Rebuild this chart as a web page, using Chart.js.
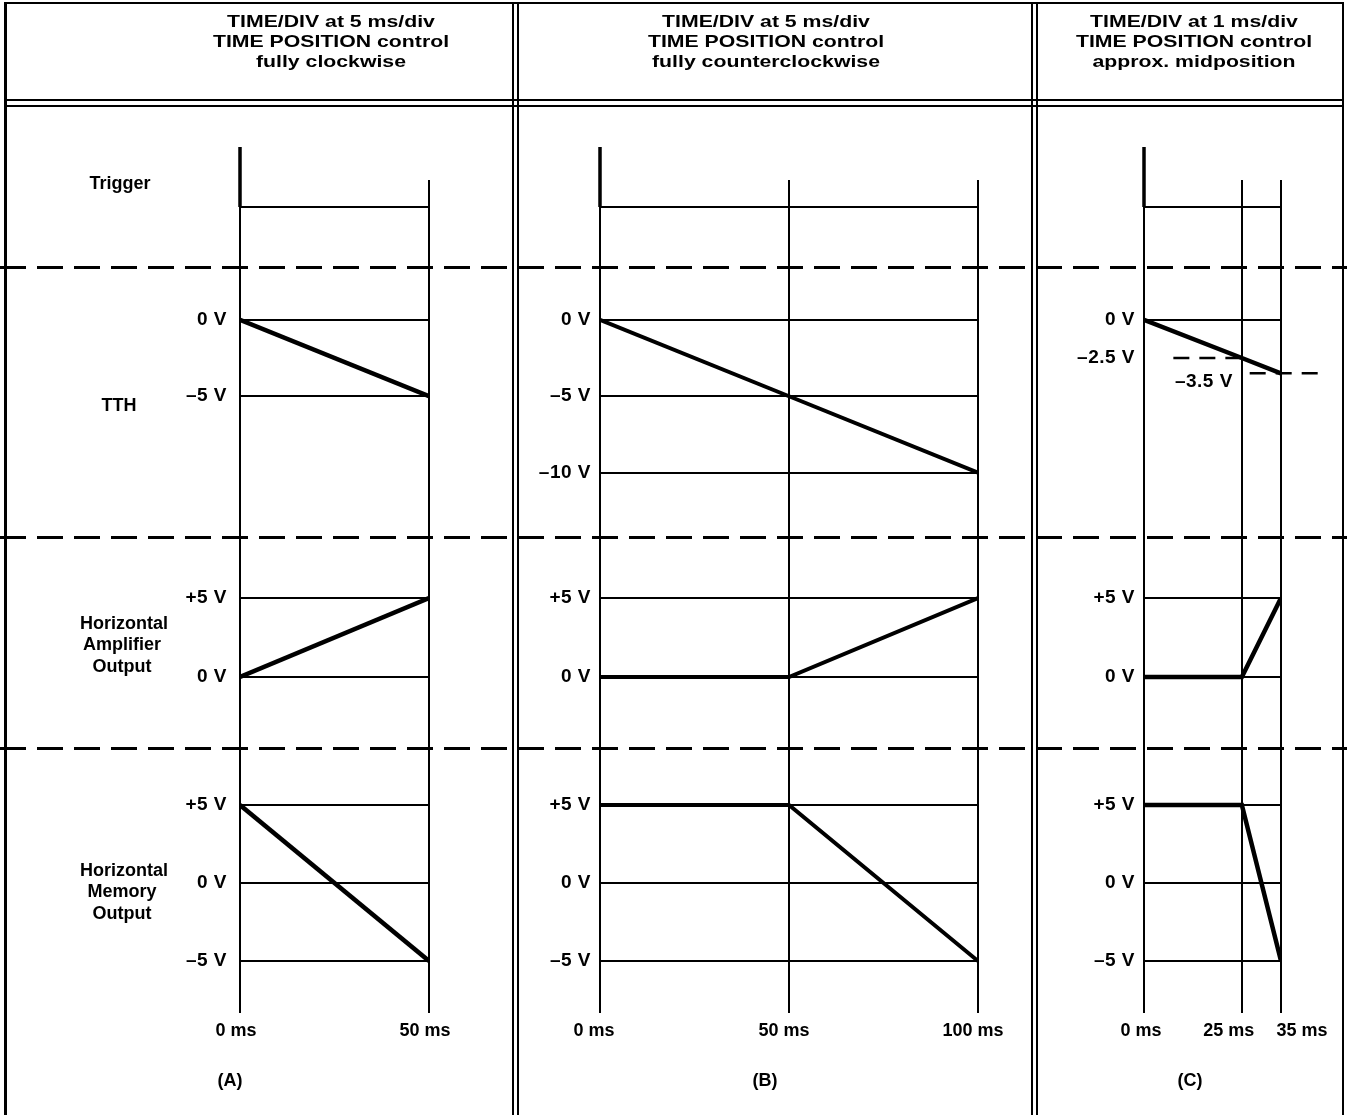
<!DOCTYPE html>
<html>
<head>
<meta charset="utf-8">
<script src="https://cdn.jsdelivr.net/npm/chart.js@4.4.1/dist/chart.umd.min.js"></script>
<style>
  html, body { margin: 0; padding: 0; background: #fff; }
  #page { position: relative; width: 1347px; height: 1115px; overflow: hidden; background: #fff;
          font-family: "Liberation Sans", Arial, sans-serif; font-weight: bold; color: #000; }
  canvas { position: absolute; left: 0; top: 0; }
  .rule { position: absolute; background: #000; }
  .dash { position: absolute; left: 0; width: 1347px; height: 3px;
          background: repeating-linear-gradient(90deg, #000 0 26px, transparent 26px 37px); }
  .t { position: absolute; white-space: nowrap; line-height: 1; font-size: 17px;
       transform: translate(-50%, -50%) scaleX(1.25); }
  .r { position: absolute; white-space: nowrap; line-height: 1; font-size: 18px;
       transform: translate(-50%, -50%); }
</style>
</head>
<body>
<div id="page">
  <!-- frame -->
  <div class="rule" style="left:4px;top:2px;width:1340px;height:2px"></div>
  <div class="rule" style="left:4px;top:2px;width:3px;height:1113px"></div>
  <div class="rule" style="left:1342px;top:2px;width:2px;height:1113px"></div>
  <div class="rule" style="left:4px;top:99px;width:1340px;height:2px"></div>
  <div class="rule" style="left:4px;top:105px;width:1340px;height:2px"></div>
  <div class="rule" style="left:512px;top:2px;width:2px;height:1113px"></div>
  <div class="rule" style="left:517px;top:2px;width:2px;height:1113px"></div>
  <div class="rule" style="left:1031px;top:2px;width:2px;height:1113px"></div>
  <div class="rule" style="left:1036px;top:2px;width:2px;height:1113px"></div>
  <div class="dash" style="top:266px"></div>
  <div class="dash" style="top:536px"></div>
  <div class="dash" style="top:747px"></div>

  <canvas id="chartA" width="1347" height="1115"></canvas>
  <canvas id="chartB" width="1347" height="1115"></canvas>
  <canvas id="chartC" width="1347" height="1115"></canvas>

  <!-- headers -->
  <div class="t" style="left:331px;top:21px">TIME/DIV at 5 ms/div</div>
  <div class="t" style="left:331px;top:41px">TIME POSITION control</div>
  <div class="t" style="left:331px;top:61px">fully clockwise</div>
  <div class="t" style="left:766px;top:21px">TIME/DIV at 5 ms/div</div>
  <div class="t" style="left:766px;top:41px">TIME POSITION control</div>
  <div class="t" style="left:766px;top:61px">fully counterclockwise</div>
  <div class="t" style="left:1194px;top:21px">TIME/DIV at 1 ms/div</div>
  <div class="t" style="left:1194px;top:41px">TIME POSITION control</div>
  <div class="t" style="left:1194px;top:61px">approx. midposition</div>

  <!-- row names -->
  <div class="r" style="left:120px;top:183px">Trigger</div>
  <div class="r" style="left:119px;top:405px">TTH</div>
  <div class="r" style="left:124px;top:623px">Horizontal</div>
  <div class="r" style="left:122px;top:644px">Amplifier</div>
  <div class="r" style="left:122px;top:666px">Output</div>
  <div class="r" style="left:124px;top:870px">Horizontal</div>
  <div class="r" style="left:122px;top:891px">Memory</div>
  <div class="r" style="left:122px;top:913px">Output</div>

  <div class="r" style="left:230px;top:1080px">(A)</div>
  <div class="r" style="left:765px;top:1080px">(B)</div>
  <div class="r" style="left:1190px;top:1080px">(C)</div>
</div>

<script>
// time marks (ms) of each panel
const timeA = [0, 50];
const timeB = [0, 50, 100];
const timeC = [0, 25, 35];

// TTH voltage at those marks
const tthA = [0, -5];
const tthB = [0, -5, -10];
const tthC = [0, -2.5, -3.5];

// horizontal amplifier output
const ampA = [0, 5];
const ampB = [0, 0, 5];
const ampC = [0, 0, 5];

// horizontal memory output
const memA = [5, -5];
const memB = [5, 5, -5];
const memC = [5, 5, -5];

// trigger pulse at 0 ms (low, high)
const trigPulse = [0, 1];

// voltage ticks per row
const tthTicksA = [0, -5];
const tthTicksB = [0, -5, -10];
const tthTicksC = [0, -2.5];
const ampTicks = [5, 0];
const memTicks = [5, 0, -5];

// dashed level marks in (C): volts, from ms, to ms
const levelMarksC = [[-2.5, 7.5, 25], [-3.5, 27, 46]];

const FONT = '"Liberation Sans", Arial, sans-serif';

function voltLabel(v) {
    if (v === 0) return "0 V";
    return (v > 0 ? "+" : "\u2013") + Math.abs(v) + " V";
}

function pts(times, vals) {
    return times.map((t, i) => ({ x: t, y: vals[i] }));
}

// draws the ms labels under the plot and extra notes
const panelText = {
    id: "panelText",
    beforeDraw(chart) {
        chart.ctx.letterSpacing = "0.5px";
    },
    afterDraw(chart, args, opts) {
        const ctx = chart.ctx;
        const xs = chart.scales.x;
        ctx.save();
        ctx.font = "bold 18px " + FONT;
        ctx.letterSpacing = "0px";
        ctx.fillStyle = "#000";
        ctx.textBaseline = "middle";
        ctx.textAlign = "center";
        opts.times.forEach((t, i) => {
            ctx.fillText(t + " ms", xs.getPixelForValue(t) + opts.shift[i], 1031);
        });
        if (opts.note) {
            const ys = chart.scales[opts.note.axis];
            ctx.font = "bold 19px " + FONT;
            ctx.letterSpacing = "0.5px";
            ctx.textAlign = "right";
            ctx.fillText(voltLabel(opts.note.v),
                xs.getPixelForValue(opts.note.t) - 9,
                ys.getPixelForValue(opts.note.v) + 8);
        }
        ctx.restore();
    },
};

function yAxis(weight, stackWeight, min, max, ticks, pad, gridColor) {
    return {
        type: "linear",
        position: "left",
        stack: "rows",
        stackWeight: stackWeight,
        weight: weight,
        min: min,
        max: max,
        afterBuildTicks: (s) => { s.ticks = ticks.map((v) => ({ value: v })); },
        afterFit: (s) => { s.width = 100; },
        border: { display: false },
        grid: { color: gridColor || "#000", lineWidth: 2, drawTicks: false },
        ticks: {
            autoSkip: false,
            padding: pad,
            color: "#000",
            font: { family: FONT, size: 19, weight: "bold" },
            callback: (v) => (weight === 4 ? "" : voltLabel(v)),
        },
    };
}

function line(data, axis, width, extra) {
    return Object.assign({
        data: data,
        yAxisID: axis,
        borderColor: "#000",
        borderWidth: width,
        pointRadius: 0,
        fill: false,
        tension: 0,
    }, extra || {});
}

function makePanel(id, p) {
    const datasets = [
        line(pts([0, 0], trigPulse), "trig", 3.5, { clip: false }),
        line(pts(p.time, p.tth), "tth", p.w),
        line(pts(p.time, p.amp), "amp", p.w),
        line(pts(p.time, p.mem), "mem", p.w),
    ];
    (p.marks || []).forEach((m) => {
        datasets.push(line([{ x: m[1], y: m[0] }, { x: m[2], y: m[0] }], "tth", 2.5,
            { borderDash: [16, 10], clip: false }));
    });

    new Chart(document.getElementById(id), {
        type: "line",
        data: { datasets: datasets },
        plugins: [panelText],
        options: {
            responsive: false,
            animation: false,
            events: [],
            layout: {
                padding: { left: p.left - 100, right: 1347 - p.right, top: 180, bottom: 102 },
            },
            plugins: {
                legend: { display: false },
                tooltip: { enabled: false },
                panelText: { times: p.time, shift: p.shift, note: p.note },
            },
            scales: {
                x: {
                    type: "linear",
                    min: 0,
                    max: p.time[p.time.length - 1],
                    afterBuildTicks: (s) => { s.ticks = p.time.map((v) => ({ value: v })); },
                    afterFit: (s) => { s.height = 0; },
                    border: { display: false },
                    grid: { color: "#000", lineWidth: 2, drawTicks: false },
                    ticks: { display: false },
                },
                trig: yAxis(4, 87, -1.0, 0.45, [0], p.pad),
                tth: yAxis(3, 270, -14.2, 3.45, p.tthTicks, p.pad, p.tthGrid),
                amp: yAxis(2, 211, -4.49, 8.86, ampTicks, p.pad),
                mem: yAxis(1, 265, -8.33, 8.65, memTicks, p.pad),
            },
        },
    });
}

makePanel("chartA", {
    left: 240, right: 429, pad: 13, w: 4.5,
    time: timeA, tth: tthA, amp: ampA, mem: memA,
    tthTicks: tthTicksA, shift: [-4, -4],
});

makePanel("chartB", {
    left: 600, right: 978, pad: 9, w: 4,
    time: timeB, tth: tthB, amp: ampB, mem: memB,
    tthTicks: tthTicksB, shift: [-6, -5, -5],
});

makePanel("chartC", {
    left: 1144, right: 1281, pad: 9, w: 4.5,
    time: timeC, tth: tthC, amp: ampC, mem: memC,
    tthTicks: tthTicksC, shift: [-3, -13, 21],
    tthGrid: (c) => (c.tick && c.tick.value === 0 ? "#000" : "rgba(0,0,0,0)"),
    marks: levelMarksC,
    note: { axis: "tth", t: 25, v: -3.5 },
});
</script>
</body>
</html>
